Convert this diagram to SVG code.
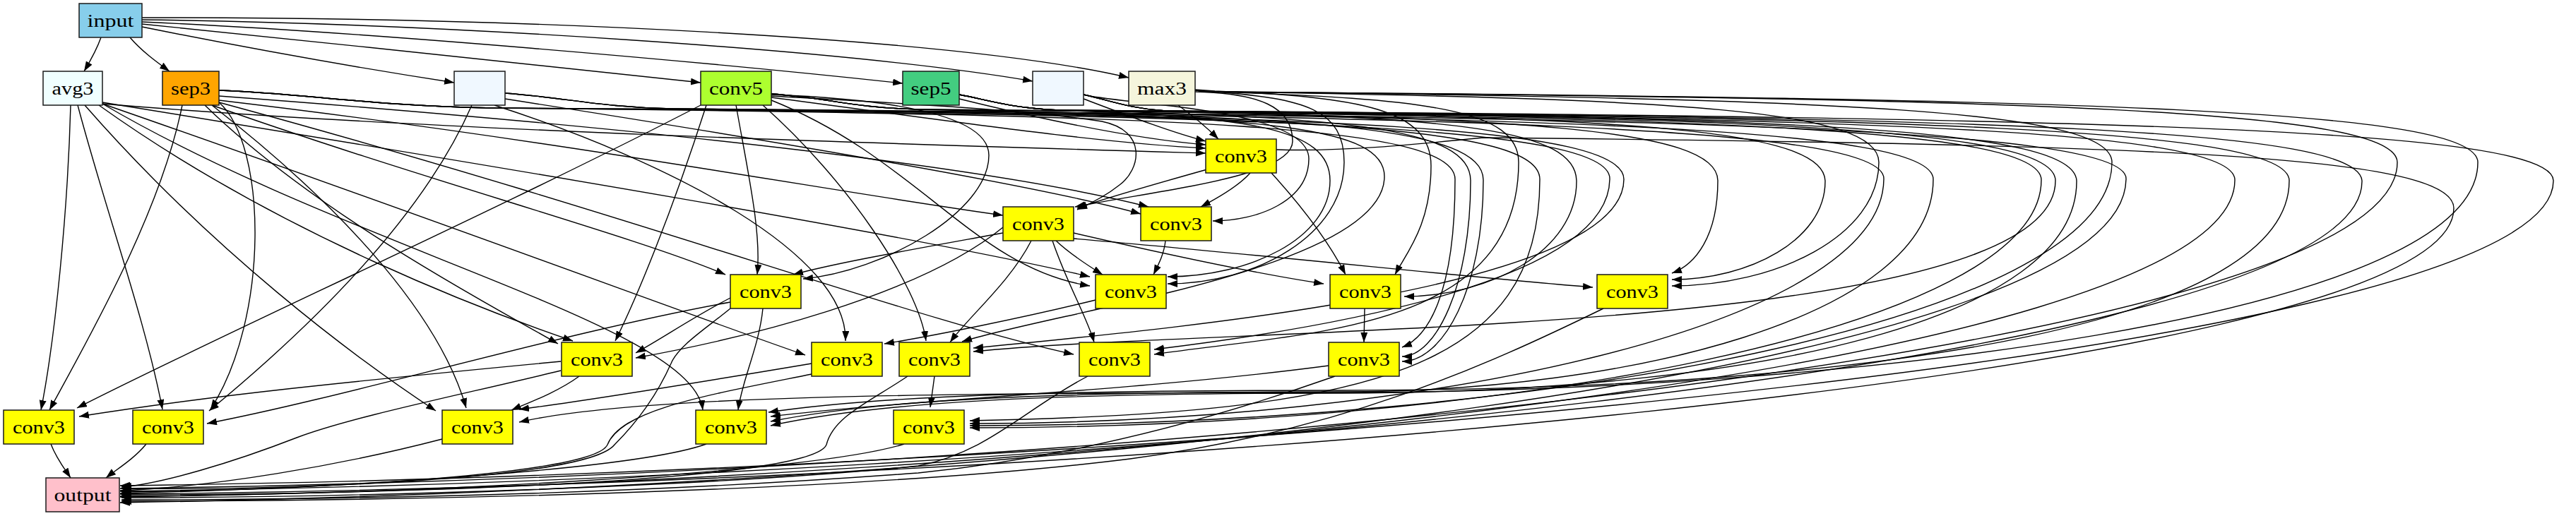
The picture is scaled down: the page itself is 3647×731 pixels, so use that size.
<svg xmlns="http://www.w3.org/2000/svg" width="3647" height="731" viewBox="0 0 3647 731">
<defs>
<marker id="ah" markerUnits="userSpaceOnUse" markerWidth="15" markerHeight="11" refX="14" refY="5" orient="auto"><path d="M0,0 L14,5 L0,10 z" fill="#000"/></marker>
</defs>
<style>
.e path{fill:none;stroke:#000;stroke-width:1.4;marker-end:url(#ah);}
.n rect{stroke:#1a1a1a;stroke-width:1.5;}
.n text{font-family:"Liberation Serif","Times New Roman",serif;font-size:26px;text-anchor:middle;fill:#000;}
.c3 rect{fill:#FFFF00;}
</style>
<rect x="0" y="0" width="3647" height="731" fill="#fff"/>
<g id="edges" class="e">
<path d="M143,53 C137,70 128,86 119,101"/>
<path d="M184,53 C200,72 222,88 240,101"/>
<path d="M201,38 C350,68 520,98 643,117"/>
<path d="M201,34 C450,58 800,98 992,117"/>
<path d="M201,31 C520,45 1000,88 1278,118"/>
<path d="M201,28 C620,33 1200,70 1462,115"/>
<path d="M201,25 C720,24 1350,52 1598,110"/>
<path d="M1668,149 C1690,165 1710,182 1725,197"/>
<path d="M1534,140 C1600,165 1660,188 1707,200"/>
<path d="M1358,140 C1500,175 1620,198 1707,205"/>
<path d="M1092,138 C1350,172 1550,202 1707,210"/>
<path d="M145,147 C600,185 1300,205 1707,217"/>
<path d="M310,142 C800,200 1200,275 1420,305"/>
<path d="M1709,240 C1620,265 1560,282 1525,295"/>
<path d="M1092,136 C1250,145 1450,155 1560,172 C1625,185 1615,240 1585,262 C1565,278 1545,288 1525,297"/>
<path d="M1692,130 C1780,132 1830,150 1830,200 C1830,250 1650,268 1522,293"/>
<path d="M1770,245 C1755,262 1725,280 1700,293"/>
<path d="M310,136 C900,180 1400,235 1626,293"/>
<path d="M715,140 C1100,200 1480,265 1615,303"/>
<path d="M1534,134 C1580,148 1853,152 1853,225 C1853,285 1780,313 1717,313"/>
<path d="M300,149 C600,255 900,335 1027,389"/>
<path d="M1042,149 C1060,250 1078,330 1072,389"/>
<path d="M1420,330 C1300,352 1185,372 1123,389"/>
<path d="M1092,134 C1250,140 1400,160 1400,220 C1400,300 1250,385 1137,395"/>
<path d="M1495,341 C1515,360 1540,376 1561,389"/>
<path d="M1650,341 C1648,360 1640,375 1633,389"/>
<path d="M145,145 C700,235 1300,335 1543,392"/>
<path d="M1092,142 C1300,225 1380,380 1543,405"/>
<path d="M1358,134 C1400,142 1430,153 1500,156 C1768,166 1883,181 1883,256 C1883,338 1768,392 1653,392"/>
<path d="M1692,128 L1720,130 C1848,140 1903,155 1903,230 C1903,333 1778,402 1653,402"/>
<path d="M1520,330 C1650,360 1780,388 1874,402"/>
<path d="M1800,245 C1850,300 1885,350 1905,389"/>
<path d="M1692,127 L1720,129 C1926,137 2026,155 2026,235 C2026,320 1990,360 1975,389"/>
<path d="M1520,338 C1800,362 2100,395 2255,407"/>
<path d="M1358,134 C1400,142 1430,153 1500,156 C2152,166 2432,181 2432,256 C2432,335 2400,375 2367,387"/>
<path d="M1534,134 C1570,142 1600,154 1650,157 C2304,167 2584,182 2584,257 C2584,340 2476,396 2367,396"/>
<path d="M1692,128 L1720,130 C2378,140 2660,155 2660,230 C2660,335 2513,405 2367,405"/>
<path d="M290,149 C450,305 700,435 790,487"/>
<path d="M140,149 C400,335 700,445 811,483"/>
<path d="M1000,149 C950,305 900,425 871,483"/>
<path d="M1034,422 C980,450 940,478 900,500"/>
<path d="M1420,322 C1300,420 1050,480 900,507"/>
<path d="M145,147 C600,305 1000,455 1140,503"/>
<path d="M700,149 C950,230 1200,360 1197,483"/>
<path d="M1551,425 C1450,450 1320,476 1252,487"/>
<path d="M1080,149 C1200,255 1300,405 1311,483"/>
<path d="M715,132 C800,138 850,152 950,154 C1894,164 2299,179 2299,254 C2299,405 1700,462 1378,493"/>
<path d="M1358,134 C1400,142 1430,153 1500,156 C2487,166 2910,181 2910,256 C2910,480 1750,460 1378,498"/>
<path d="M1460,341 C1430,400 1370,450 1345,485"/>
<path d="M1092,133 C1170,138 1200,152 1300,155 C1800,165 1960,180 1960,250 C1960,380 1500,440 1362,484"/>
<path d="M310,145 C900,305 1300,455 1520,502"/>
<path d="M1490,341 C1510,400 1540,452 1549,485"/>
<path d="M1692,128 L1720,130 C2021,140 2150,155 2150,230 C2150,470 1850,470 1634,502"/>
<path d="M310,128 C430,132 520,150 700,153 C1805,163 2279,178 2279,253 C2279,398 1880,465 1634,495"/>
<path d="M1932,437 L1931,485"/>
<path d="M1358,134 C1400,142 1430,153 1500,156 C1907,166 2082,181 2082,256 C2082,405 2033,505 1985,505"/>
<path d="M1092,133 C1170,138 1200,152 1300,155 C1860,165 2100,180 2100,255 C2100,409 2043,512 1985,512"/>
<path d="M310,128 C430,132 520,150 700,153 C1700,163 2060,178 2060,254 C2060,420 2020,478 1985,492"/>
<path d="M1534,134 C1570,142 1600,154 1650,157 C2057,167 2232,182 2232,257 C2232,355 2110,420 1988,420"/>
<path d="M100,149 C96,300 78,480 58,581"/>
<path d="M258,149 C228,300 125,480 70,581"/>
<path d="M992,149 C700,300 300,480 109,578"/>
<path d="M794,512 C500,540 300,560 112,590"/>
<path d="M110,149 C150,300 205,450 230,580"/>
<path d="M310,145 C378,205 382,450 298,580"/>
<path d="M668,149 C600,305 450,455 296,582"/>
<path d="M1034,428 C800,470 500,560 293,600"/>
<path d="M120,149 C300,355 500,505 617,582"/>
<path d="M300,149 C500,305 625,455 660,578"/>
<path d="M1149,515 C1000,540 850,565 735,580"/>
<path d="M820,533 C790,555 750,570 724,581"/>
<path d="M1692,128 L1720,130 C2972,140 3508,155 3508,230 C3508,450 2600,555 1900,556 C1300,557 900,560 735,598"/>
<path d="M145,147 C500,355 980,460 995,581"/>
<path d="M1080,437 C1075,490 1050,540 1045,581"/>
<path d="M1881,518 C1600,555 1300,565 1091,590"/>
<path d="M715,132 C800,138 850,152 950,154 C2201,164 2737,179 2737,254 C2737,450 2300,555 1900,555 C1500,555 1250,565 1091,597"/>
<path d="M1534,134 C1570,142 1600,154 1650,157 C2553,167 2940,182 2940,257 C2940,450 2500,555 1900,557 C1500,557 1250,568 1091,603"/>
<path d="M1358,134 C1400,142 1430,153 1500,156 C2719,166 3241,181 3241,256 C3241,450 2700,552 1900,553 C1500,553 1250,560 1088,584"/>
<path d="M1323,533 L1317,577"/>
<path d="M310,128 C430,132 520,150 700,153 C2077,163 2667,178 2667,253 C2667,461 2020,600 1373,600"/>
<path d="M1092,133 C1170,138 1200,152 1300,155 C2413,165 2890,180 2890,255 C2890,466 2131,606 1373,606"/>
<path d="M1692,128 L1720,130 C2609,140 2990,155 2990,230 C2990,454 2181,603 1373,603"/>
<path d="M715,132 C800,138 850,152 950,154 C1850,164 2180,178 2180,254 C2180,520 1950,585 1373,596"/>
<path d="M72,629 C80,650 92,665 100,677"/>
<path d="M207,629 C190,650 165,665 150,677"/>
<path d="M626,622 C480,660 300,690 170,695"/>
<path d="M794,525 C650,560 500,590 420,620 C330,655 230,685 172,690"/>
<path d="M1034,437 C1000,465 960,490 950,515 C930,560 900,600 870,630 C830,680 400,695 172,692"/>
<path d="M1149,530 C1000,560 880,580 860,630 C840,675 400,695 172,697"/>
<path d="M1285,533 C1230,570 1180,590 1170,630 C1150,680 600,700 172,701"/>
<path d="M1540,533 C1450,580 1400,640 1300,660 C1000,690 500,705 172,705"/>
<path d="M1000,629 C900,665 500,690 170,699"/>
<path d="M1280,629 C1150,670 600,700 170,703"/>
<path d="M1890,533 C1700,600 1500,650 1300,670 C900,700 500,708 172,708"/>
<path d="M2270,437 C2100,520 1900,610 1600,650 C1200,700 500,710 172,710"/>
<path d="M310,128 C430,132 520,150 700,153 C2317,163 3010,178 3010,253 C3010,528 1500,690 170,712"/>
<path d="M1092,133 C1170,138 1200,152 1300,155 C2605,165 3164,180 3164,255 C3164,524 1500,685 170,704"/>
<path d="M1534,134 C1570,142 1600,154 1650,157 C2836,167 3344,182 3344,257 C3344,520 1500,680 170,696"/>
<path d="M1692,128 L1720,130 C2892,140 3394,155 3394,230 C3394,507 1500,676 170,692"/>
<path d="M1807,212 C1900,215 2000,205 2100,195 C3062,205 3474,220 3474,295 C3474,538 1500,688 170,700"/>
<path d="M1358,134 C1400,142 1430,153 1500,156 C2980,166 3615,181 3615,256 C3615,515 1500,672 170,688"/>
</g>
<g id="n-input" class="n"><rect x="112" y="5" width="89" height="48" fill="#87CEEB"/><text x="156.5" y="38" textLength="66" lengthAdjust="spacingAndGlyphs">input</text></g>
<g id="n-avg3" class="n"><rect x="61" y="101" width="84" height="48" fill="#F0FFFF"/><text x="103" y="134" textLength="59" lengthAdjust="spacingAndGlyphs">avg3</text></g>
<g id="n-sep3" class="n"><rect x="230" y="101" width="80" height="48" fill="#FFA500"/><text x="270" y="134" textLength="56" lengthAdjust="spacingAndGlyphs">sep3</text></g>
<g id="n-blank1" class="n"><rect x="643" y="101" width="72" height="48" fill="#F0F8FF"/></g>
<g id="n-conv5" class="n"><rect x="992" y="101" width="100" height="48" fill="#ADFF2F"/><text x="1042" y="134" textLength="76" lengthAdjust="spacingAndGlyphs">conv5</text></g>
<g id="n-sep5" class="n"><rect x="1278" y="101" width="80" height="48" fill="#43CD80"/><text x="1318" y="134" textLength="57" lengthAdjust="spacingAndGlyphs">sep5</text></g>
<g id="n-blank2" class="n"><rect x="1462" y="101" width="72" height="48" fill="#F0F8FF"/></g>
<g id="n-max3" class="n"><rect x="1598" y="101" width="94" height="48" fill="#F5F5DC"/><text x="1645" y="134" textLength="70" lengthAdjust="spacingAndGlyphs">max3</text></g>
<g id="n-E" class="n c3"><rect x="1707" y="197" width="100" height="48"/><text x="1757" y="230" textLength="74" lengthAdjust="spacingAndGlyphs">conv3</text></g>
<g id="n-F" class="n c3"><rect x="1420" y="293" width="100" height="48"/><text x="1470" y="326" textLength="74" lengthAdjust="spacingAndGlyphs">conv3</text></g>
<g id="n-G" class="n c3"><rect x="1615" y="293" width="100" height="48"/><text x="1665" y="326" textLength="74" lengthAdjust="spacingAndGlyphs">conv3</text></g>
<g id="n-H" class="n c3"><rect x="1034" y="389" width="100" height="48"/><text x="1084" y="422" textLength="74" lengthAdjust="spacingAndGlyphs">conv3</text></g>
<g id="n-I" class="n c3"><rect x="1551" y="389" width="100" height="48"/><text x="1601" y="422" textLength="74" lengthAdjust="spacingAndGlyphs">conv3</text></g>
<g id="n-P" class="n c3"><rect x="1883" y="389" width="100" height="48"/><text x="1933" y="422" textLength="74" lengthAdjust="spacingAndGlyphs">conv3</text></g>
<g id="n-Q" class="n c3"><rect x="2261" y="389" width="100" height="48"/><text x="2311" y="422" textLength="74" lengthAdjust="spacingAndGlyphs">conv3</text></g>
<g id="n-D" class="n c3"><rect x="795" y="485" width="100" height="48"/><text x="845" y="518" textLength="74" lengthAdjust="spacingAndGlyphs">conv3</text></g>
<g id="n-K" class="n c3"><rect x="1149" y="485" width="100" height="48"/><text x="1199" y="518" textLength="74" lengthAdjust="spacingAndGlyphs">conv3</text></g>
<g id="n-L" class="n c3"><rect x="1273" y="485" width="100" height="48"/><text x="1323" y="518" textLength="74" lengthAdjust="spacingAndGlyphs">conv3</text></g>
<g id="n-M" class="n c3"><rect x="1528" y="485" width="100" height="48"/><text x="1578" y="518" textLength="74" lengthAdjust="spacingAndGlyphs">conv3</text></g>
<g id="n-R" class="n c3"><rect x="1881" y="485" width="100" height="48"/><text x="1931" y="518" textLength="74" lengthAdjust="spacingAndGlyphs">conv3</text></g>
<g id="n-A" class="n c3"><rect x="5" y="581" width="100" height="48"/><text x="55" y="614" textLength="74" lengthAdjust="spacingAndGlyphs">conv3</text></g>
<g id="n-B" class="n c3"><rect x="188" y="581" width="100" height="48"/><text x="238" y="614" textLength="74" lengthAdjust="spacingAndGlyphs">conv3</text></g>
<g id="n-C" class="n c3"><rect x="626" y="581" width="100" height="48"/><text x="676" y="614" textLength="74" lengthAdjust="spacingAndGlyphs">conv3</text></g>
<g id="n-N" class="n c3"><rect x="985" y="581" width="100" height="48"/><text x="1035" y="614" textLength="74" lengthAdjust="spacingAndGlyphs">conv3</text></g>
<g id="n-O" class="n c3"><rect x="1265" y="581" width="100" height="48"/><text x="1315" y="614" textLength="74" lengthAdjust="spacingAndGlyphs">conv3</text></g>
<g id="n-output" class="n"><rect x="65" y="677" width="104" height="48" fill="#FFC0CB"/><text x="117" y="710" textLength="81" lengthAdjust="spacingAndGlyphs">output</text></g>
</svg>
